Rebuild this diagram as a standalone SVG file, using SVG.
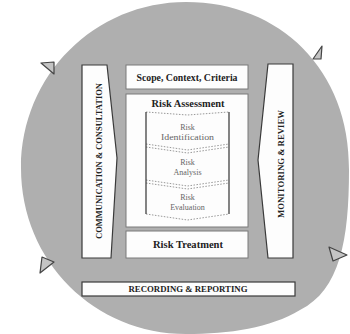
<svg xmlns="http://www.w3.org/2000/svg" width="350" height="334" viewBox="0 0 350 334">
<style>
.box{fill:#fdfdfd;stroke:#7a7a7a;stroke-width:1}
.bar{fill:#fdfdfd;stroke:#3a3a3a;stroke-width:1.2}
.t{font-family:"Liberation Serif","DejaVu Serif",serif;fill:#222;text-anchor:middle;font-weight:bold}
.cap{font-size:8px}
.lbl{font-size:9.5px}
.in{font-family:"Liberation Serif","DejaVu Serif",serif;fill:#666;text-anchor:middle;font-size:8px}
.side{stroke:#333;stroke-width:1.2;fill:none}
.dot{stroke:#999;stroke-width:1;stroke-dasharray:1.5 1.5;fill:none}
.arr{fill:#c4c4c4;stroke:#444;stroke-width:1.2;stroke-linejoin:round}
</style>
<rect width="350" height="334" fill="#ffffff"/>
<g id="cycle">
<path d="M186,2 C280,2 350,70 349,170 C349,240 340,290 300,310 C270,328 230,334 186,334 C95,334 21,262 21,168 C21,75 95,2 186,2 Z" fill="#afafaf"/>
</g>
<g id="connectors">
<polygon class="arr" points="41,63 54,62 54,74"/>
<polygon class="arr" points="322,46 313,59 321,59"/>
<polygon class="arr" points="347,255 329,247 333,261"/>
<polygon class="arr" points="40,273 42,257 54,262"/>
</g>
<g id="communication">
<polygon class="bar" points="82,65 107,65 117,158 111,258 82,258"/>
<text class="t cap" transform="translate(102,161) rotate(-90)" textLength="156" lengthAdjust="spacingAndGlyphs">COMMUNICATION &amp; CONSULTATION</text>
</g>
<g id="monitoring">
<polygon class="bar" points="268,64 293,64 293,258 268,258 258,160"/>
<text class="t cap" transform="translate(284,164) rotate(-90)" textLength="108" lengthAdjust="spacingAndGlyphs">MONITORING &amp; REVIEW</text>
</g>
<g id="scope">
<rect class="box" x="126" y="65" width="122" height="24"/>
<text class="t lbl" x="187" y="80.5" textLength="101" lengthAdjust="spacingAndGlyphs">Scope, Context, Criteria</text>
</g>
<g id="assessment">
<rect class="box" x="126" y="94" width="122" height="133"/>
<text class="t lbl" x="188" y="107" textLength="73" lengthAdjust="spacingAndGlyphs">Risk Assessment</text>
<g id="identification">
<polyline class="dot" points="146,112 187.5,115 229,112"/>
<polyline class="dot" points="146,144 187.5,150 229,144"/>
<text class="in" x="187.5" y="130">Risk</text>
<text class="in" x="187.5" y="139.5" textLength="53" lengthAdjust="spacingAndGlyphs">Identification</text>
</g>
<g id="analysis">
<polyline class="dot" points="146,147 187.5,153 229,147"/>
<polyline class="dot" points="146,180 187.5,186 229,180"/>
<text class="in" x="187.5" y="165">Risk</text>
<text class="in" x="187.5" y="175">Analysis</text>
</g>
<g id="evaluation">
<polyline class="dot" points="146,183 187.5,189 229,183"/>
<polyline class="dot" points="146,214 187.5,220 229,214"/>
<text class="in" x="187.5" y="200">Risk</text>
<text class="in" x="187.5" y="210">Evaluation</text>
</g>
<line class="side" x1="146" y1="112" x2="146" y2="214"/>
<line class="side" x1="229" y1="112" x2="229" y2="214"/>
</g>
<g id="treatment">
<rect class="box" x="126" y="231" width="122" height="27"/>
<text class="t lbl" x="188" y="248" textLength="70" lengthAdjust="spacingAndGlyphs">Risk Treatment</text>
</g>
<g id="recording">
<rect class="bar" x="82" y="282" width="213" height="14"/>
<text class="t cap" x="188" y="292" textLength="119" lengthAdjust="spacingAndGlyphs">RECORDING &amp; REPORTING</text>
</g>
</svg>
